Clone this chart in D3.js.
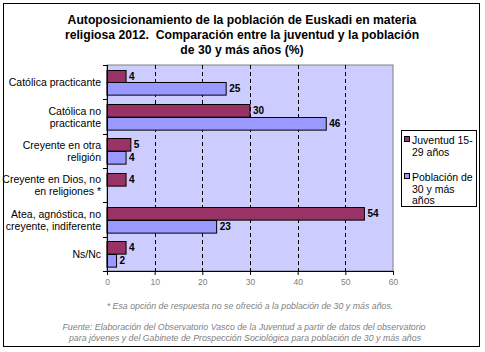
<!DOCTYPE html>
<html>
<head>
<meta charset="utf-8">
<script src="https://cdn.jsdelivr.net/npm/d3@7"></script>
<style>
    body { margin: 0; background: #fff; }
    svg text { font-family: "Liberation Sans", Arial, sans-serif; }
    .cat text { font-size: 10.5px; fill: #000; }
    .val { font-size: 10px; font-weight: bold; fill: #000; }
    .xAxis text { font-size: 8.5px; fill: #808080; }
    .note { font-size: 8.8px; font-style: italic; fill: #808080; }
</style>
</head>
<body>
<div id="chart"></div>
<script>
    var categories = [
        ["Católica practicante"],
        ["Católica no", "practicante"],
        ["Creyente en otra", "religión"],
        ["Creyente en Dios, no", "en religiones *"],
        ["Atea, agnóstica, no", "creyente, indiferente"],
        ["Ns/Nc"]
    ];
    var juventud = [4, 30, 5, 4, 54, 4];
    var poblacion = [25, 46, 4, null, 23, 2];
    var xTicks = [0, 10, 20, 30, 40, 50, 60];
    var seriesNames = [["Juventud 15-", "29 años"], ["Población de", "30 y más", "años"]];
    var colors = ["#993366", "#9999ff"];

    var W = 485, H = 352;
    var plot = { left: 107, right: 393, top: 65, bottom: 271 };

    var svg = d3.select("#chart").append("svg")
        .attr("width", W).attr("height", H);

    // outer frame
    svg.append("rect")
        .attr("x", 3.5).attr("y", 3.5).attr("width", 476).attr("height", 343)
        .attr("fill", "#fff").attr("stroke", "#000");

    // title
    var title = ["Autoposicionamiento de la población de Euskadi en materia",
        "religiosa 2012.  Comparación entre la juventud y la población",
        "de 30 y más años (%)"];
    svg.append("g").selectAll("text").data(title).enter().append("text")
        .attr("x", 242).attr("y", (d, i) => 24 + i * 15)
        .attr("text-anchor", "middle")
        .style("font-size", "12.2px").style("font-weight", "bold")
        .style("white-space", "pre")
        .text(d => d);

    var x = d3.scaleLinear().domain([0, 60]).range([plot.left, plot.right]);
    var y = d3.scaleBand().domain(d3.range(categories.length))
        .range([plot.top, plot.bottom]).paddingInner(0).paddingOuter(0);
    var inner = d3.scaleBand().domain([0, 1]).range([0, y.bandwidth()]).paddingOuter(0.36).paddingInner(0);

    // plot background
    svg.append("rect")
        .attr("x", plot.left).attr("y", plot.top)
        .attr("width", plot.right - plot.left).attr("height", plot.bottom - plot.top)
        .attr("fill", "#ccccff").attr("stroke", "#808080");

    // dashed gridlines
    svg.append("g").selectAll("line").data(xTicks.slice(1, -1)).enter().append("line")
        .attr("x1", d => Math.round(x(d)) + 0.5).attr("x2", d => Math.round(x(d)) + 0.5)
        .attr("y1", plot.top).attr("y2", plot.bottom)
        .attr("stroke", "#000").attr("stroke-dasharray", "4,3");

    // bars
    var series = [juventud, poblacion];
    series.forEach(function (vals, s) {
        var g = svg.append("g");
        var data = vals.map((v, i) => ({ v: v, i: i })).filter(d => d.v !== null);
        g.selectAll("rect").data(data).enter().append("rect")
            .attr("x", x(0))
            .attr("y", d => Math.round(y(d.i) + inner(s)) + 0.5)
            .attr("width", d => x(d.v) - x(0))
            .attr("height", inner.bandwidth())
            .attr("fill", colors[s]).attr("stroke", "#000");
        g.selectAll("text").data(data).enter().append("text")
            .attr("class", "val")
            .attr("x", d => x(d.v) + 3)
            .attr("y", d => Math.round(y(d.i) + inner(s)) + inner.bandwidth() / 2 + 4)
            .text(d => d.v);
    });

    // x axis
    var xAxis = svg.append("g").attr("class", "xAxis")
        .attr("transform", "translate(0," + plot.bottom + ")")
        .call(d3.axisBottom(x).tickValues(xTicks).tickSize(4).tickPadding(4));
    xAxis.select(".domain").attr("stroke", "#000");
    xAxis.selectAll(".tick line").attr("stroke", "#000");

    // y axis line and ticks at category boundaries
    var yAx = svg.append("g");
    yAx.append("line").attr("x1", plot.left + 0.5).attr("x2", plot.left + 0.5)
        .attr("y1", plot.top).attr("y2", plot.bottom).attr("stroke", "#000");
    yAx.selectAll("line.t").data(d3.range(categories.length + 1)).enter().append("line")
        .attr("class", "t")
        .attr("x1", plot.left - 4).attr("x2", plot.left)
        .attr("y1", d => Math.round(plot.top + d * y.bandwidth()) + 0.5)
        .attr("y2", d => Math.round(plot.top + d * y.bandwidth()) + 0.5)
        .attr("stroke", "#000");

    // category labels
    var cat = svg.append("g").attr("class", "cat");
    categories.forEach(function (lines, i) {
        var cy = y(i) + y.bandwidth() / 2;
        var t = cat.append("text").attr("text-anchor", "end");
        lines.forEach(function (l, k) {
            t.append("tspan").attr("x", 101)
                .attr("y", cy + 4 + (k - (lines.length - 1) / 2) * 12)
                .text(l);
        });
    });

    // legend
    var leg = svg.append("g");
    leg.append("rect").attr("x", 401.5).attr("y", 130.5).attr("width", 75).attr("height", 76)
        .attr("fill", "#fff").attr("stroke", "#000");
    var legY = [140, 177];
    seriesNames.forEach(function (lines, s) {
        leg.append("rect").attr("x", 404.5).attr("y", legY[s] - 3.5).attr("width", 5).attr("height", 5)
            .attr("fill", colors[s]).attr("stroke", "#000");
        var t = leg.append("text").style("font-size", "10.5px");
        lines.forEach(function (l, k) {
            t.append("tspan").attr("x", 412).attr("y", legY[s] + 4 + k * 11.5).text(l);
        });
    });

    // notes
    var notes = [
        { t: "* Esa opción de respuesta no se ofreció a la población de 30 y más años.", y: 309, x: 250 },
        { t: "Fuente: Elaboración del Observatorio Vasco de la Juventud a partir de datos del observatorio", y: 330, x: 244 },
        { t: "para jóvenes y del Gabinete de Prospección Sociológica para población de 30 y más años", y: 341, x: 245 }
    ];
    svg.append("g").selectAll("text").data(notes).enter().append("text")
        .attr("class", "note").attr("text-anchor", "middle")
        .attr("x", d => d.x).attr("y", d => d.y).text(d => d.t);
</script>
</body>
</html>
